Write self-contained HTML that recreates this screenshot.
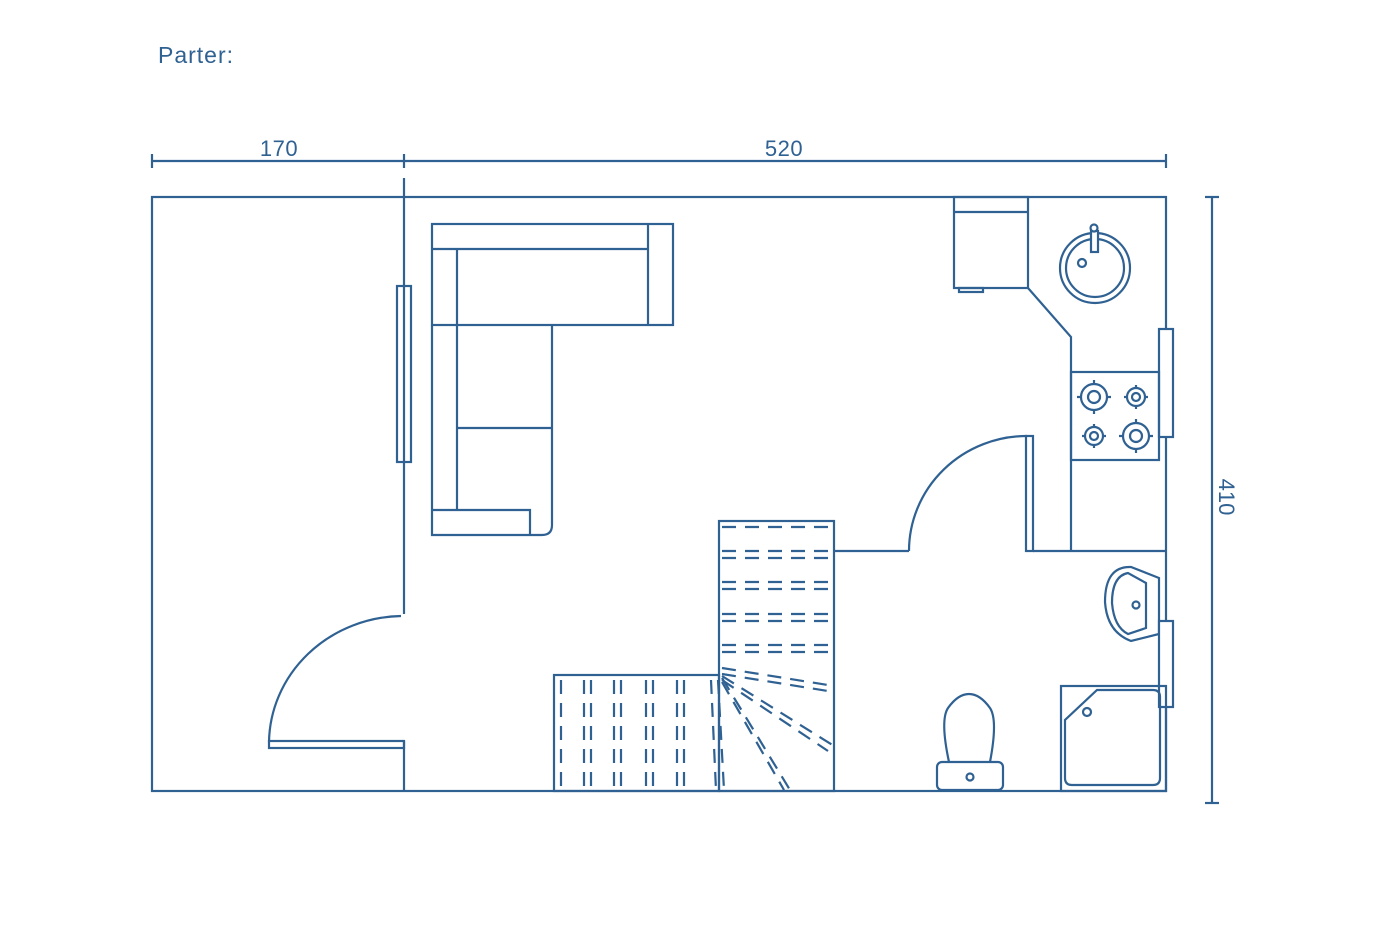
<!DOCTYPE html>
<html><head><meta charset="utf-8"><style>
html,body{margin:0;padding:0;background:#fff;}
svg{display:block;}
text{font-family:"Liberation Sans",sans-serif;fill:#2f6192;}
</style></head><body>
<svg width="1400" height="933" viewBox="0 0 1400 933" xmlns="http://www.w3.org/2000/svg">
<g fill="none" stroke="#2f6192" stroke-width="2.2">
<line x1="152" y1="161" x2="1166" y2="161"/>
<line x1="152" y1="154" x2="152" y2="168"/>
<line x1="404" y1="154" x2="404" y2="168"/>
<line x1="1166" y1="154" x2="1166" y2="168"/>
<line x1="1212" y1="197" x2="1212" y2="803"/>
<line x1="1205" y1="197" x2="1219" y2="197"/>
<line x1="1205" y1="803" x2="1219" y2="803"/>
<rect x="152" y="197" width="1014" height="594"/>
<line x1="404" y1="178" x2="404" y2="614"/>
<line x1="404" y1="741" x2="404" y2="791"/>
<rect x="397" y="286" width="14" height="176"/>
<rect x="269" y="741" width="135" height="7"/>
<path d="M269,742 A135,128 0 0 1 401,616"/>
<rect x="432" y="224" width="241" height="101"/>
<line x1="432" y1="249" x2="648" y2="249"/>
<line x1="648" y1="224" x2="648" y2="325"/>
<path d="M432,325 L432,535 L542,535 Q552,535 552,525 L552,325"/>
<line x1="457" y1="249" x2="457" y2="510"/>
<line x1="457" y1="428" x2="552" y2="428"/>
<path d="M432,510 L530,510 L530,535"/>
<rect x="719" y="521" width="115" height="270"/>
<rect x="554" y="675" width="165" height="116"/>
<g stroke-dasharray="14,9">
<line x1="722" y1="527" x2="834" y2="527"/>
<line x1="722" y1="551" x2="834" y2="551"/><line x1="722" y1="558" x2="834" y2="558"/>
<line x1="722" y1="582" x2="834" y2="582"/><line x1="722" y1="589" x2="834" y2="589"/>
<line x1="722" y1="614" x2="834" y2="614"/><line x1="722" y1="621" x2="834" y2="621"/>
<line x1="722" y1="645" x2="834" y2="645"/><line x1="722" y1="652" x2="834" y2="652"/>
<line x1="722" y1="668" x2="834" y2="686"/><line x1="722" y1="674" x2="834" y2="692"/>
<line x1="722" y1="676" x2="834" y2="746"/><line x1="722" y1="680" x2="828" y2="751"/>
<line x1="722" y1="678" x2="790" y2="790"/><line x1="722" y1="682" x2="784" y2="790"/>
<line x1="718" y1="680" x2="724" y2="790"/><line x1="711" y1="680" x2="716" y2="790"/>
<line x1="561" y1="680" x2="561" y2="790"/>
<line x1="584" y1="680" x2="584" y2="790"/><line x1="591" y1="680" x2="591" y2="790"/>
<line x1="614" y1="680" x2="614" y2="790"/><line x1="621" y1="680" x2="621" y2="790"/>
<line x1="646" y1="680" x2="646" y2="790"/><line x1="653" y1="680" x2="653" y2="790"/>
<line x1="677" y1="680" x2="677" y2="790"/><line x1="684" y1="680" x2="684" y2="790"/>
</g>
<line x1="834" y1="551" x2="909" y2="551"/>
<path d="M909,551 A118,115 0 0 1 1027,436"/>
<rect x="1026" y="436" width="7" height="115"/>
<line x1="1033" y1="551" x2="1166" y2="551"/>
<rect x="954" y="197" width="74" height="91"/>
<line x1="954" y1="212" x2="1028" y2="212"/>
<rect x="959" y="288" width="24" height="4"/>
<path d="M1028,288 L1071,337 L1071,551"/>
<circle cx="1095" cy="268" r="35"/>
<circle cx="1095" cy="268" r="29"/>
<rect x="1091" y="231" width="7" height="21" fill="#fff"/>
<circle cx="1094" cy="228" r="3.5" fill="#fff"/>
<circle cx="1082" cy="263" r="4"/>
<rect x="1159" y="329" width="14" height="108" fill="#fff"/>
<rect x="1071" y="372" width="88" height="88"/>
<circle cx="1094" cy="397" r="13"/><circle cx="1094" cy="397" r="6"/>
<path d="M1094,380v5M1094,409v5M1077,397h5M1106,397h5"/>
<circle cx="1136" cy="397" r="9"/><circle cx="1136" cy="397" r="4"/>
<path d="M1136,385v3M1136,406v3M1124,397h3M1145,397h3"/>
<circle cx="1094" cy="436" r="9"/><circle cx="1094" cy="436" r="4"/>
<path d="M1094,424v3M1094,445v3M1082,436h3M1103,436h3"/>
<circle cx="1136" cy="436" r="13"/><circle cx="1136" cy="436" r="6"/>
<path d="M1136,419v5M1136,448v5M1119,436h5M1148,436h5"/>
<path d="M1159,578 L1131,567 Q1105,566 1105,602 Q1107,632 1131,641 L1159,634 Z"/>
<path d="M1146,583 L1128,573 Q1112,576 1112,603 Q1114,627 1128,634 L1146,628 Z"/>
<circle cx="1136" cy="605" r="3.5"/>
<rect x="1159" y="621" width="14" height="86" fill="#fff"/>
<rect x="1061" y="686" width="105" height="105"/>
<path d="M1097,690 L1153,690 Q1160,690 1160,697 L1160,778 Q1160,785 1153,785 L1072,785 Q1065,785 1065,778 L1065,720 Z"/>
<circle cx="1087" cy="712" r="4"/>
<path d="M949,762 Q940,720 948,708 Q958,694 969,694 Q980,694 990,708 Q998,720 990,762"/>
<rect x="937" y="762" width="66" height="28" rx="5"/>
<circle cx="970" cy="777" r="3.5"/>
</g>
<text x="158" y="63" font-size="23" letter-spacing="1">Parter:</text>
<text x="279" y="156" font-size="22" text-anchor="middle" letter-spacing="0.5">170</text>
<text x="784" y="156" font-size="22" text-anchor="middle" letter-spacing="0.5">520</text>
<text x="0" y="0" font-size="22" text-anchor="middle" transform="translate(1219,497) rotate(90)">410</text>
</svg>
</body></html>
